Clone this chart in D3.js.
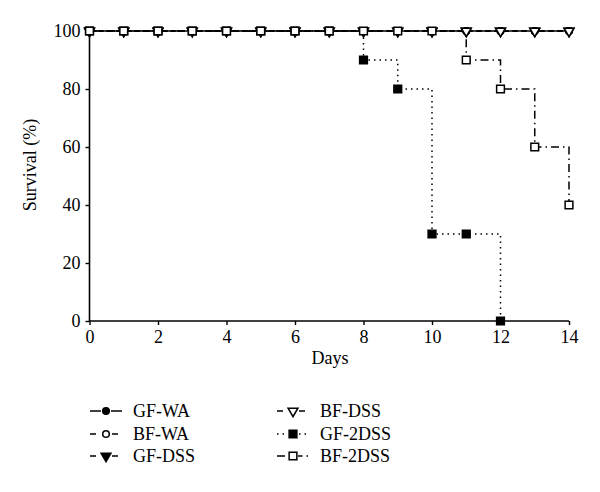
<!DOCTYPE html>
<html><head><meta charset="utf-8">
<script src="https://cdn.jsdelivr.net/npm/d3@7"></script>
<style>body{margin:0;background:#fff}text{font-family:"Liberation Serif","Times New Roman",serif;fill:#000}</style>
</head><body><svg id="c" width="600" height="492"></svg>
<script>
const days = [0,1,2,3,4,5,6,7,8,9,10,11,12,13,14];
const gfWA   = [100,100,100,100,100,100,100,100,100,100,100,100,100,100,100];
const bfWA   = [100,100,100,100,100,100,100,100,100,100,100,100,100,100,100];
const gfDSS  = [100,100,100,100,100,100,100,100,100,100,100,100,100,100,100];
const bfDSS  = [100,100,100,100,100,100,100,100,100,100,100,100,100,100,100];
const gf2DSS = [100,100,100,100,100,100,100,100,90,80,30,30,0];
const bf2DSS = [100,100,100,100,100,100,100,100,100,100,100,90,80,60,40];
const xTicks = [0,2,4,6,8,10,12,14];
const yTicks = [0,20,40,60,80,100];

const series = [
  {name:"GF-WA", vals:gfWA, dash:null, sym:"circle", fill:"#000"},
  {name:"BF-WA", vals:bfWA, dash:"5,4", sym:"circle", fill:"#fff"},
  {name:"GF-DSS", vals:gfDSS, dash:"5,4", sym:"tri", fill:"#000"},
  {name:"BF-DSS", vals:bfDSS, dash:"5,4", sym:"tri", fill:"#fff"},
  {name:"GF-2DSS", vals:gf2DSS, dash:"1.5,4", sym:"square", fill:"#000"},
  {name:"BF-2DSS", vals:bf2DSS, dash:"8,4,1.5,4", sym:"square", fill:"#fff"}
];

const svg = d3.select("#c");
const x = d3.scaleLinear().domain([0,14]).range([89.5,569]);
const y = d3.scaleLinear().domain([0,100]).range([321,31]);

const symGen = {
  circle: d3.symbol().type(d3.symbolCircle).size(34),
  square: d3.symbol().type(d3.symbolSquare).size(60),
  tri: d3.symbol().type(d3.symbolTriangle).size(42)
};
function drawSym(g, s, cx, cy){
  g.append("path").attr("d", symGen[s.sym]())
   .attr("transform", `translate(${cx},${cy})` + (s.sym==="tri" ? " rotate(180)" : ""))
   .attr("fill", s.fill).attr("stroke","#000").attr("stroke-width",1.5);
}

// axes
const xa = svg.append("g").attr("transform","translate(0,321)")
  .call(d3.axisBottom(x).tickValues(xTicks).tickSize(4).tickPadding(5).tickFormat(d3.format("d")));
const ya = svg.append("g").attr("transform","translate(89.5,0)")
  .call(d3.axisLeft(y).tickValues(yTicks).tickSize(4).tickPadding(5).tickFormat(d3.format("d")));
[xa,ya].forEach(a=>{
  a.selectAll("path").attr("stroke","#000").attr("stroke-width",1.6);
  a.selectAll("line").attr("stroke","#000").attr("stroke-width",1.4);
  a.selectAll("text").attr("font-size",18).attr("font-family","Liberation Serif, serif");
});
xa.selectAll("path").attr("d","M89.5,0H569");
ya.selectAll("path").attr("d","M0,31V321");

// lines
const line = d3.line().x((d,i)=>x(days[i])).y(d=>y(d)).curve(d3.curveStepAfter);
series.forEach(s=>{
  svg.append("path").attr("d", line(s.vals)).attr("fill","none")
    .attr("stroke","#000").attr("stroke-width",1.5)
    .attr("stroke-dasharray", s.dash);
});
// markers
series.forEach(s=>{
  const g = svg.append("g");
  s.vals.forEach((v,i)=>drawSym(g, s, x(days[i]), y(v)));
});

// labels
svg.append("text").attr("x",330).attr("y",364).attr("text-anchor","middle").attr("font-size",18).text("Days");
svg.append("text").attr("transform","translate(36,165) rotate(-90)").attr("text-anchor","middle").attr("font-size",18).text("Survival (%)");

// legend
const legPos = [[90,411],[90,434],[90,456],[277,411],[277,434],[277,456]];
series.forEach((s,i)=>{
  const [lx,ly] = legPos[i];
  const g = svg.append("g");
  g.append("line").attr("x1",lx).attr("x2",lx+32).attr("y1",ly).attr("y2",ly)
    .attr("stroke","#000").attr("stroke-width",1.5).attr("stroke-dasharray", s.dash ? (s.dash==="5,4" ? "6,5" : s.dash) : null);
  g.append("rect").attr("x",lx+11).attr("y",ly-5).attr("width",10).attr("height",10).attr("fill","#fff");
  drawSym(g, s, lx+16, ly);
  g.append("text").attr("x",lx+43).attr("y",ly+6).attr("font-size",18).text(s.name);
});
</script></body></html>
